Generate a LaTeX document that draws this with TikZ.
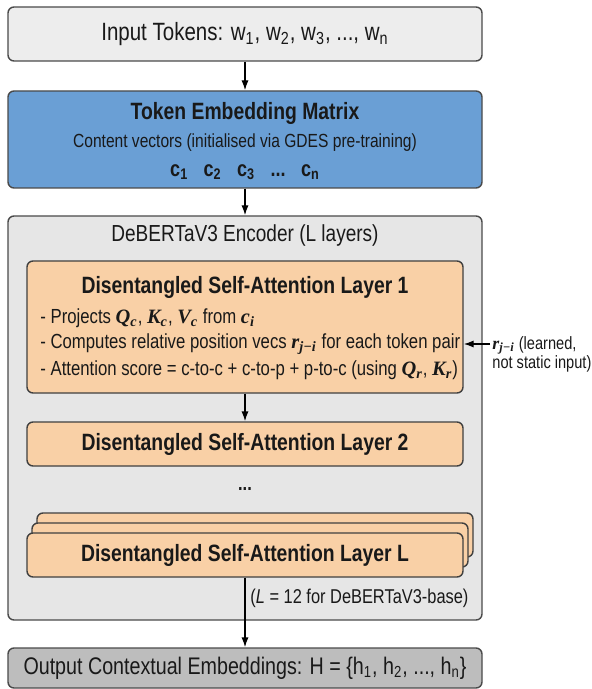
\documentclass[tikz,border=0pt]{standalone}
\usepackage{fontspec}
\setmainfont{Liberation Sans}[FakeStretch=0.82]
\newfontfamily\vecfont{Liberation Serif}
\usetikzlibrary{arrows.meta}
\definecolor{inGray}{HTML}{EDEDED}
\definecolor{embBlue}{HTML}{6A9FD5}
\definecolor{encGray}{HTML}{E6E6E6}
\definecolor{layerPeach}{HTML}{F9D0A6}
\definecolor{outGray}{HTML}{BDBDBD}
\definecolor{edgeGray}{HTML}{4A4A4A}
\newcommand{\vsym}[2]{{\vecfont\bfseries\itshape #1\textsubscript{#2}}}
\begin{document}
\begin{tikzpicture}[x=0.5pt,y=-0.5pt,
  box/.style={draw=edgeGray, line width=0.7pt, rounded corners=3pt, inner sep=0pt, text=black!90},
  widebox/.style={box, minimum width=237pt},
  layerbox/.style={box, fill=layerPeach, draw=black!75, minimum width=218pt, minimum height=22pt, font=\bfseries\fontsize{11.8}{14}\selectfont},
  titletxt/.style={font=\bfseries\fontsize{11.8}{14}\selectfont, inner sep=0pt, text=black!90},
  small/.style={font=\fontsize{10.2}{12}\selectfont, inner sep=0pt, text=black!90},
  flow/.style={-{Latex[length=5pt,width=3.6pt]}, line width=0.7pt}]
  \useasboundingbox (0,0) rectangle (592,689);
  \node[widebox, fill=inGray, minimum height=27pt, font=\fontsize{12.5}{15}\selectfont] (in) at (245,34) {Input Tokens: w\textsubscript{1}, w\textsubscript{2}, w\textsubscript{3}, ..., w\textsubscript{n}};
  \node[widebox, fill=embBlue, minimum height=48.5pt] (emb) at (245,139.5) {};
  \node[titletxt] (embT) at (245,113) {Token Embedding Matrix};
  \node[small, font=\fontsize{9.5}{12}\selectfont] (embS) at (245,143) {Content vectors (initialised via GDES pre-training)};
  \node[titletxt, font=\bfseries\fontsize{11}{13}\selectfont] (embC) at (245,172) {c\textsubscript{1}\hspace{0.7em}c\textsubscript{2}\hspace{0.7em}c\textsubscript{3}\hspace{0.7em}...\hspace{0.7em}c\textsubscript{n}};
  \node[widebox, fill=encGray, minimum height=202pt] (enc) at (245,418) {};
  \node[titletxt, font=\fontsize{11.6}{14}\selectfont] (encT) at (245,236) {DeBERTaV3 Encoder (L layers)};
  \node[layerbox, minimum height=66pt] (l1) at (245,327) {};
  \node[titletxt] (l1T) at (245,287) {Disentangled Self-Attention Layer 1};
  \node[small, anchor=west] (l1a) at (40,318) {- Projects \vsym{Q}{c}, \vsym{K}{c}, \vsym{V}{c} from \vsym{c}{i}};
  \node[small, anchor=west] (l1b) at (40,344) {- Computes relative position vecs \vsym{r}{j−i} for each token pair};
  \node[small, anchor=west] (l1c) at (40,370) {- Attention score = c-to-c + c-to-p + p-to-c (using \vsym{Q}{r}, \vsym{K}{r})};
  \node[layerbox] (l2) at (245,444) {Disentangled Self-Attention Layer 2};
  \node[titletxt, font=\bfseries\fontsize{10}{12}\selectfont] (dots) at (245,489) {...};
  \node[layerbox] (lLb) at (255,535) {};
  \node[layerbox] (lLm) at (250,545) {};
  \node[layerbox] (lL) at (245,555) {Disentangled Self-Attention Layer L};
  \node[small, font=\fontsize{10}{12}\selectfont, anchor=west] (lnote) at (250,598) {(\textit{L} = 12 for DeBERTaV3-base)};
  \node[widebox, fill=outGray, minimum height=20pt, font=\fontsize{12}{14}\selectfont] (out) at (245,668) {Output Contextual Embeddings: H = \{h\textsubscript{1}, h\textsubscript{2}, ..., h\textsubscript{n}\}};
  \node[small, font=\fontsize{8.9}{9.5}\selectfont, anchor=west, align=left] (rnote) at (492,354) {\vsym{r}{j−i} (learned,\\not static input)};
  \draw[flow] (in) -- (emb);
  \draw[flow] (emb) -- (enc);
  \draw[flow] (l1) -- (l2);
  \draw[flow] (lL) -- (out);
  \draw[flow] ([xshift=-1pt]rnote.west |- l1b) -- (l1.east |- l1b);
\end{tikzpicture}
\end{document}
